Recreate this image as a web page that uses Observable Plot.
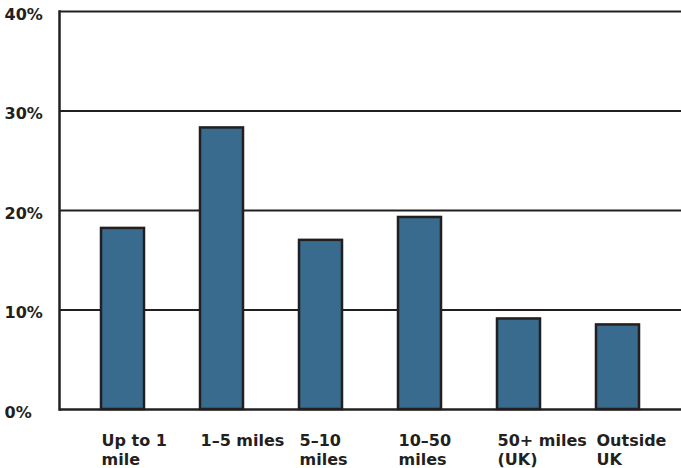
<!DOCTYPE html>
<html>
<head>
<meta charset="utf-8">
<script src="https://cdn.jsdelivr.net/npm/d3@7"></script>
<script src="https://cdn.jsdelivr.net/npm/@observablehq/plot@0.6"></script>
<style>
  html, body { margin: 0; padding: 0; background: #fff; }
  #chart svg { display: block; }
</style>
</head>
<body>
<div id="chart"></div>
<script>
const categories = ["Up to 1 mile", "1–5 miles", "5–10 miles", "10–50 miles", "50+ miles (UK)", "Outside UK"];
const tickLabels = ["Up to 1\nmile", "1–5 miles", "5–10\nmiles", "10–50\nmiles", "50+ miles\n(UK)", "Outside\nUK"];
const values = [18.2, 28.3, 17.0, 19.3, 9.1, 8.5];
const yTicks = [0, 10, 20, 30, 40];
const gridValues = [10, 20, 30, 40];

const data = categories.map((c, i) => ({category: c, value: values[i]}));
const labelOf = new Map(categories.map((c, i) => [c, tickLabels[i]]));

const ink = "#231f20";
const chart = Plot.plot({
  width: 681,
  height: 468,
  marginLeft: 59,
  marginRight: 0,
  marginTop: 11,
  marginBottom: 59,
  style: {fontFamily: "'DejaVu Sans', sans-serif", fontWeight: "bold", fontSize: "16px", color: ink, background: "#fff"},
  x: {domain: categories, paddingInner: 0.57, paddingOuter: 0.41},
  y: {domain: [0, 40]},
  marks: [
    Plot.ruleY(gridValues, {stroke: ink, strokeWidth: 2}),
    Plot.ruleY([0], {stroke: ink, strokeWidth: 2.5}),
    Plot.frame({anchor: "left", stroke: ink, strokeWidth: 2.5}),
    Plot.barY(data, {x: "category", y: "value", fill: "#386b8e", stroke: ink, strokeWidth: 2.5}),
    Plot.axisY({ticks: yTicks, tickFormat: d => d + "%", tickSize: 0, tickPadding: 0, textAnchor: "start", dx: -55, dy: 3, label: null, fill: ink, fontSize: 16}),
    Plot.axisX({tickSize: 0, tickPadding: 0, tickFormat: d => labelOf.get(d), textAnchor: "start", dx: -21.5, dy: 23, lineAnchor: "top", lineHeight: 1.2, label: null, fill: ink, fontSize: 16})
  ]
});
document.getElementById("chart").appendChild(chart);
</script>
</body>
</html>
